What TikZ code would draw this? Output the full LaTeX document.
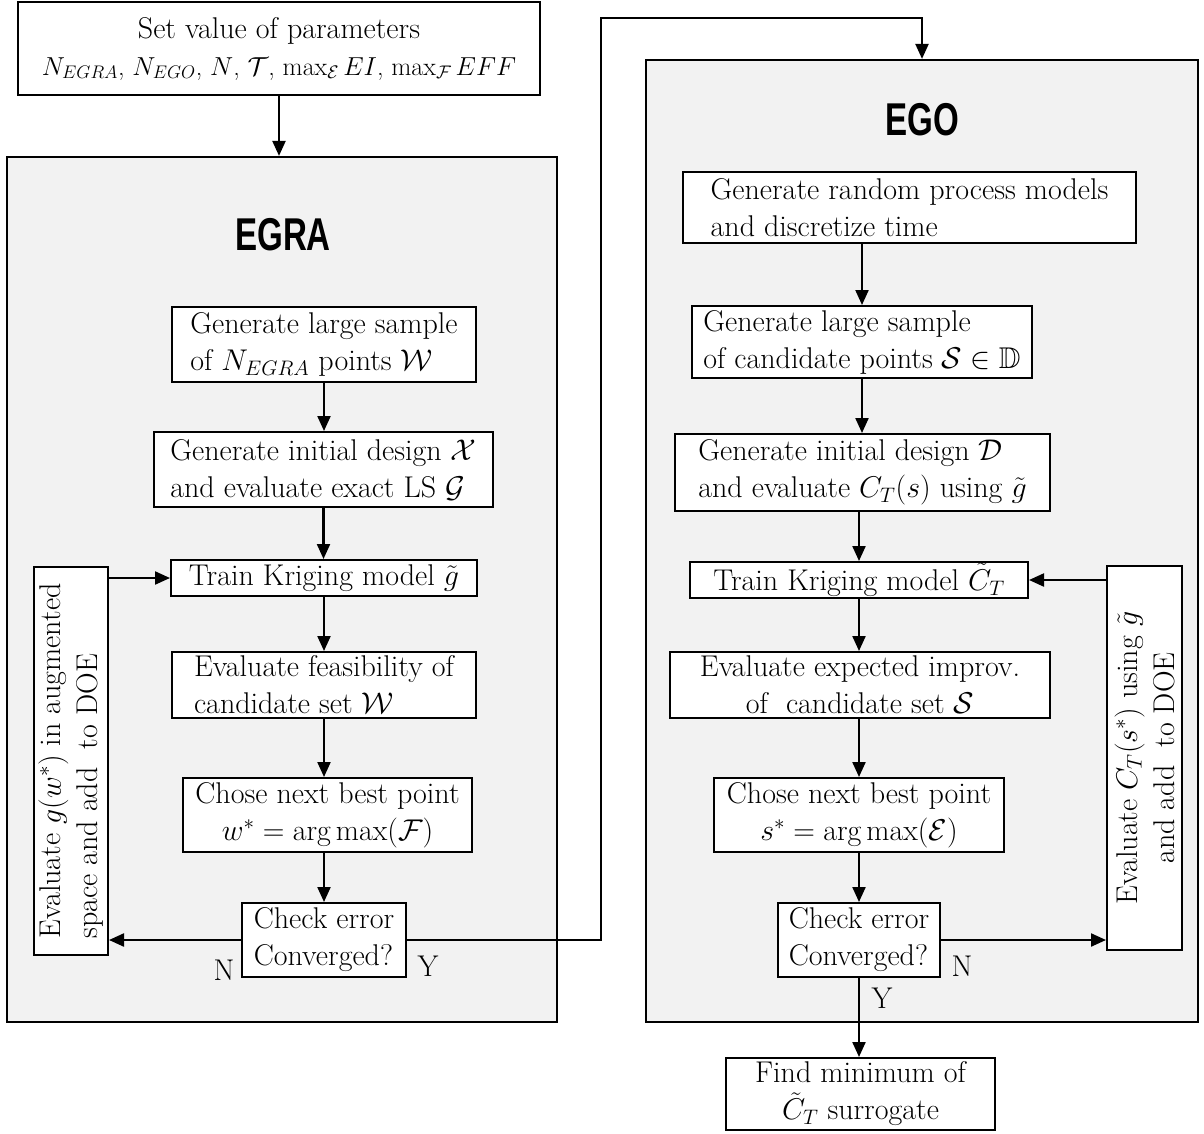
\documentclass[tikz,border=0pt]{standalone}
\usepackage{fix-cm}
\usepackage{amssymb}
\usepackage{fontspec}
\newfontfamily\headfont[FakeStretch=0.72]{Liberation Sans}
\usetikzlibrary{arrows.meta}

\definecolor{panelgray}{RGB}{242,242,242}

\tikzset{
  box/.style={draw, fill=white, line width=2pt, inner sep=0pt},
  panel/.style={draw, fill=panelgray, line width=2.2pt, inner sep=0pt},
  flow/.style={line width=2.2pt, -{Triangle[length=15pt,width=13pt]}},
  head/.style={font=\headfont\bfseries\fontsize{46}{46}\selectfont},
}

\begin{document}
\begin{tikzpicture}[x=1pt, y=-1pt, every node/.style={font=\fontsize{30}{37}\selectfont}]

% the space
\useasboundingbox (0,0) rectangle (1204,1134);

% the two loops
\node[panel, minimum width=550, minimum height=865] (egra) at (282,589.5) {};
\node[panel, minimum width=552, minimum height=962] (ego) at (922,541) {};
\node[head] (egraTitle) at (283,235) {EGRA};
\node[head] (egoTitle) at (922,120) {EGO};

% parameters
\node[box, minimum width=522, minimum height=93, align=center] (param) at (279,48.5)
  {Set value of parameters\\ \fontsize{26}{37}\selectfont $N_{EGRA}$, $N_{EGO}$, $N$, $\mathcal{T}$, $\max_{\mathcal{E}}EI$, $\max_{\mathcal{F}}EFF$};

% EGRA
\node[box, minimum width=304, minimum height=75, align=left] (sampleA) at (324,344.5)
  {Generate large sample\\ of $N_{EGRA}$ points $\mathcal{W}$};
\node[box, minimum width=339, minimum height=75, align=left] (initA) at (323.5,469.5)
  {Generate initial design $\mathcal{X}$\\ and evaluate exact LS $\mathcal{G}$};
\node[box, minimum width=306, minimum height=36] (trainA) at (324,578)
  {Train Kriging model $\tilde{g}$};
\node[box, minimum width=304, minimum height=66, align=left] (feasA) at (324,685)
  {Evaluate feasibility of\\ candidate set $\mathcal{W}$};
\node[box, minimum width=289, minimum height=74, align=center] (choseA) at (327.5,815)
  {Chose next best point\\ $w^* = \arg\max(\mathcal{F})$};
\node[box, minimum width=164, minimum height=74, align=left] (checkA) at (324,940)
  {Check error\\ Converged?};
\node[box, rotate=90, minimum width=388, minimum height=74, align=left] (evalA) at (71,761)
  {Evaluate $g(w^*)$ in augmented\\ space and add \ to DOE};
\node (noA) at (224,970) {N};
\node (yesA) at (428,966) {Y};

% EGO
\node[box, minimum width=453, minimum height=71, align=left] (randB) at (909.5,207.5)
  {Generate random process models\\ and discretize time};
\node[box, minimum width=340, minimum height=72, align=left] (sampleB) at (862,342)
  {Generate large sample\\ of candidate points $\mathcal{S}\in\mathbb{D}$};
\node[box, minimum width=375, minimum height=77, align=left] (initB) at (862.5,472.5)
  {Generate initial design $\mathcal{D}$\\ and evaluate $C_T(s)$ using $\tilde{g}$};
\node[box, minimum width=338, minimum height=36] (trainB) at (859,580)
  {Train Kriging model $\tilde{C}_T$};
\node[box, minimum width=380, minimum height=66, align=center] (imprB) at (860,685)
  {Evaluate expected improv.\\ of \ candidate set $\mathcal{S}$};
\node[box, minimum width=290, minimum height=74, align=center] (choseB) at (859,815)
  {Chose next best point\\ $s^* = \arg\max(\mathcal{E})$};
\node[box, minimum width=162, minimum height=74, align=left] (checkB) at (859,940)
  {Check error\\ Converged?};
\node[box, rotate=90, minimum width=384, minimum height=75, align=center] (evalB) at (1144.5,758)
  {Evaluate $C_T(s^*)$ using $\tilde{g}$\\ and add \ to DOE};
\node (noB) at (962,966) {N};
\node (yesB) at (882,998) {Y};
\node[box, minimum width=269, minimum height=72, align=center] (findB) at (860.5,1094)
  {Find minimum of\\ $\tilde{C}_T$ surrogate};

% arrows
\draw[flow] (param.south) -- (param.south |- egra.north);
\draw[flow] (sampleA.south) -- (sampleA.south |- initA.north);
\draw[flow] (initA.south) -- (initA.south |- trainA.north);
\draw[flow] (trainA.south) -- (trainA.south |- feasA.north);
\draw[flow] (feasA.south) -- (feasA.south |- choseA.north);
\draw[flow] (choseA.south -| checkA) -- (checkA.north);
\draw[flow] (checkA.west) -- (checkA.west -| evalA.south);
\draw[flow] (evalA.south |- trainA.west) -- (trainA.west);

\coordinate (turn) at (601,18);
\draw[flow] (checkA.east) -| (turn) -| (ego.north);

\draw[flow] (randB.south -| sampleB) -- (sampleB.north);
\draw[flow] (sampleB.south) -- (sampleB.south |- initB.north);
\draw[flow] (initB.south -| trainB) -- (trainB.north);
\draw[flow] (trainB.south) -- (trainB.south |- imprB.north);
\draw[flow] (imprB.south -| choseB) -- (choseB.north);
\draw[flow] (choseB.south) -- (choseB.south |- checkB.north);
\draw[flow] (checkB.east) -- (checkB.east -| evalB.north);
\draw[flow] (evalB.north |- trainB.east) -- (trainB.east);
\draw[flow] (checkB.south) -- (checkB.south |- findB.north);

\end{tikzpicture}
\end{document}
